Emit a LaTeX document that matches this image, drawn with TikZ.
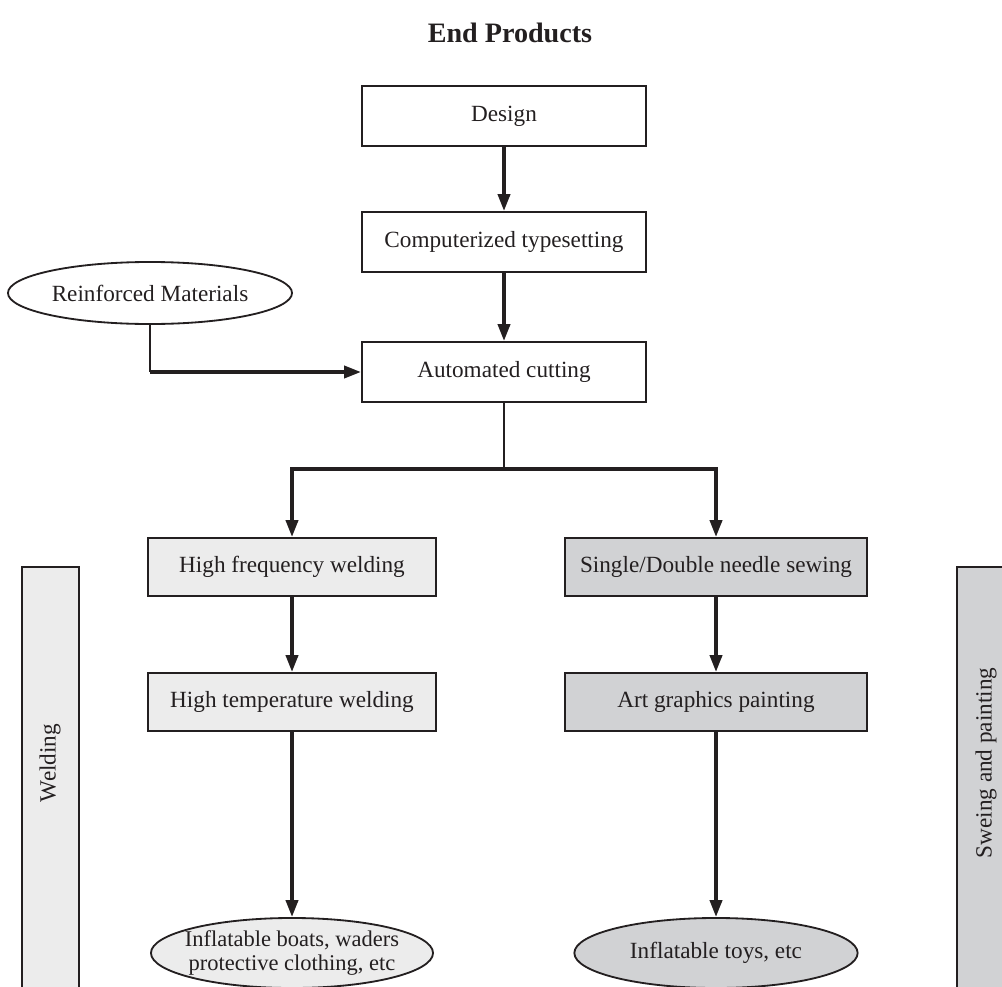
\documentclass[tikz,border=0pt]{standalone}
\usepackage{fontspec}
\setmainfont{Liberation Serif}
\usetikzlibrary{arrows.meta,shapes.geometric}
\definecolor{lightgrey}{HTML}{ECECEC}
\definecolor{midgrey}{HTML}{D1D2D4}
\definecolor{ink}{HTML}{231F20}

\begin{document}
\begin{tikzpicture}[x=0.025cm,y=-0.025cm,
  txt/.style={font=\fontsize{16.5}{18}\selectfont,text=ink},
  box/.style={txt,draw=ink,line width=1.3pt,minimum width=7.1cm,minimum height=1.5cm,inner sep=0pt},
  oval/.style={txt,ellipse,draw=ink,line width=1.3pt,minimum width=7.1cm,minimum height=1.55cm,inner sep=0pt},
  flow/.style={draw=ink,line width=2.6pt,-{Triangle[length=12pt,width=8.5pt]}},
  link/.style={draw=ink,line width=1.5pt},
  bar/.style={draw=ink,line width=1.3pt}]
\useasboundingbox (0,0) rectangle (1002,987);
\clip (0,0) rectangle (1002,987);
% side bars
\draw[bar,fill=lightgrey] (22,567) rectangle (79,1000);
\draw[bar,fill=midgrey] (957,567) rectangle (1015,1000);
\node[txt,rotate=90] (weldlbl) at (50,763) {Welding};
\node[txt,rotate=90] (sewlbl) at (986,763) {Sweing and painting};
% main chain
\node[txt,font=\fontsize{20}{22}\bfseries] (title) at (510,33) {End Products};
\node[box] (design) at (504,116) {Design};
\node[box] (typeset) at (504,242) {Computerized typesetting};
\node[box] (cutting) at (504,372) {Automated cutting};
\node[oval] (reinf) at (150,293) {Reinforced Materials};
\coordinate (bend) at (reinf.south |- cutting.west);
\coordinate (split) at (504,469);
% two branches
\node[box,fill=lightgrey,minimum width=7.2cm,minimum height=1.45cm] (hfweld) at (292,567) {High frequency welding};
\node[box,fill=lightgrey,minimum width=7.2cm,minimum height=1.45cm] (htweld) at (292,702) {High temperature welding};
\node[oval,fill=lightgrey,minimum width=7.05cm,minimum height=1.75cm,inner xsep=-0.3cm,align=center,font=\fontsize{16}{16.5}\selectfont] (boats) at (292,953) {Inflatable boats, waders\\protective clothing, etc};
\node[box,fill=midgrey,minimum width=7.55cm,minimum height=1.45cm] (sewing) at (716,567) {Single/Double needle sewing};
\node[box,fill=midgrey,minimum width=7.55cm,minimum height=1.45cm] (paint) at (716,702) {Art graphics painting};
\node[oval,fill=midgrey,minimum width=7.08cm,minimum height=1.75cm] (toys) at (716,953) {Inflatable toys, etc};
% connectors
\draw[flow] (design) -- (typeset);
\draw[flow] (typeset) -- (cutting);
\draw[link] (reinf.south) -- (bend);
\draw[flow] (bend) -- (cutting.west);
\draw[link] (cutting) -- (split);
\draw[flow] (split) -| (hfweld.north);
\draw[flow] (split) -| (sewing.north);
\draw[flow] (hfweld) -- (htweld);
\draw[flow] (htweld) -- (boats);
\draw[flow] (sewing) -- (paint);
\draw[flow] (paint) -- (toys);
\end{tikzpicture}
\end{document}
